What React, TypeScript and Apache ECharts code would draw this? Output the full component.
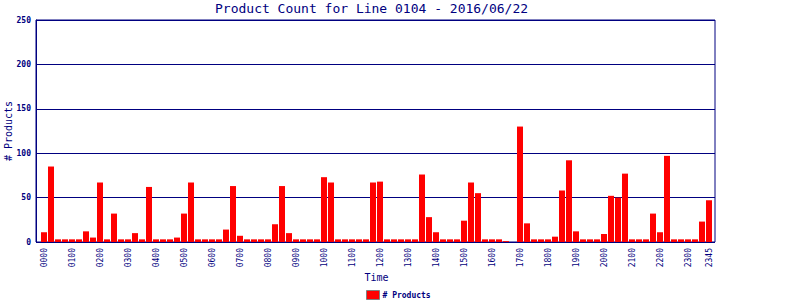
import React, { useEffect, useRef } from "react";
import * as echarts from "echarts";

const TITLE = "Product Count for Line 0104 - 2016/06/22";
const SERIES_NAME = "# Products";

const times: string[] = [
  "0000","0015","0030","0045","0100","0115","0130","0145",
  "0200","0215","0230","0245","0300","0315","0330","0345",
  "0400","0415","0430","0445","0500","0515","0530","0545",
  "0600","0615","0630","0645","0700","0715","0730","0745",
  "0800","0815","0830","0845","0900","0915","0930","0945",
  "1000","1015","1030","1045","1100","1115","1130","1145",
  "1200","1215","1230","1245","1300","1315","1330","1345",
  "1400","1415","1430","1445","1500","1515","1530","1545",
  "1600","1615","1630","1645","1700","1715","1730","1745",
  "1800","1815","1830","1845","1900","1915","1930","1945",
  "2000","2015","2030","2045","2100","2115","2130","2145",
  "2200","2215","2230","2245","2300","2315","2330","2345",
];

const products: number[] = [
  11, 85, 3, 3, 3, 3, 12, 5,
  67, 3, 32, 3, 3, 10, 3, 62,
  3, 3, 3, 5, 32, 67, 3, 3,
  3, 3, 14, 63, 7, 3, 3, 3,
  3, 20, 63, 10, 3, 3, 3, 3,
  73, 67, 3, 3, 3, 3, 3, 67,
  68, 3, 3, 3, 3, 3, 76, 28,
  11, 3, 3, 3, 24, 67, 55, 3,
  3, 3, 1, 0, 130, 21, 3, 3,
  3, 6, 58, 92, 12, 3, 3, 3,
  9, 52, 50, 77, 3, 3, 3, 32,
  11, 97, 3, 3, 3, 3, 23, 47,
];

const yTicks = { min: 0, max: 250, interval: 50 };

const NAVY = "#000080";
const MONO = "DejaVu Sans Mono";

export default function App() {
  const ref = useRef<HTMLDivElement>(null);
  useEffect(() => {
    if (!ref.current) return;
    const chart = echarts.init(ref.current, null, { renderer: "svg" });
    const lastIdx = times.length - 1;
    chart.setOption({
      animation: false,
      backgroundColor: "#ffffff",
      title: {
        text: TITLE,
        left: 215,
        top: 2,
        padding: 0,
        textStyle: { fontFamily: MONO, fontSize: 13, fontWeight: "normal", color: NAVY },
      },
      legend: {
        data: [SERIES_NAME],
        left: 366,
        top: 290,
        icon: "rect",
        itemWidth: 13,
        itemHeight: 9,
        itemGap: 4,
        padding: 0,
        itemStyle: { borderColor: "#808080", borderWidth: 1 },
        textStyle: { fontFamily: MONO, fontSize: 8, fontWeight: "bold", color: NAVY, padding: [0, 0, 0, -2] },
      },
      grid: [
        { left: 36, top: 20, width: 679, height: 222, show: true, borderColor: NAVY, borderWidth: 1, backgroundColor: "transparent", containLabel: false, outerBoundsMode: "none" },
        { left: 40.5, top: 20, width: 672, height: 222, containLabel: false, outerBoundsMode: "none" },
      ],
      xAxis: [
        { type: "value", gridIndex: 0, min: 0, max: 1, show: false },
        {
          type: "category",
          gridIndex: 1,
          data: times,
          axisLine: { show: false },
          axisTick: { show: false },
          axisLabel: {
            rotate: 90,
            margin: 6,
            fontFamily: MONO,
            fontSize: 8,
            color: NAVY,
            interval: (i: number) => i % 4 === 0 || i === lastIdx,
          },
          name: "Time",
          nameLocation: "middle",
          nameGap: 30,
          nameMoveOverlap: false,
          nameTextStyle: { fontFamily: MONO, fontSize: 10, color: NAVY },
        },
      ],
      yAxis: [
        {
          type: "value",
          gridIndex: 0,
          min: yTicks.min,
          max: yTicks.max,
          interval: yTicks.interval,
          axisLine: { show: true, lineStyle: { color: NAVY, width: 1 } },
          axisTick: { show: false },
          splitLine: { show: true, lineStyle: { color: NAVY, width: 1 } },
          axisLabel: { margin: 5, fontFamily: MONO, fontSize: 8, fontWeight: "bold", color: NAVY },
          name: SERIES_NAME,
          nameLocation: "middle",
          nameGap: 23,
          nameRotate: 90,
          nameMoveOverlap: false,
          nameTextStyle: { fontFamily: MONO, fontSize: 10, color: NAVY },
        },
        {
          type: "value",
          gridIndex: 1,
          min: yTicks.min,
          max: yTicks.max,
          interval: yTicks.interval,
          show: false,
          splitLine: { show: false },
        },
      ],
      series: [
        {
          name: SERIES_NAME,
          type: "bar",
          xAxisIndex: 1,
          yAxisIndex: 1,
          data: products,
          barWidth: 6,
          itemStyle: { color: "#ff0000" },
        },
      ],
    });
    return () => chart.dispose();
  }, []);
  return (
    <div
      ref={ref}
      style={{ position: "fixed", left: 0, top: 0, width: 800, height: 300 }}
    />
  );
}
